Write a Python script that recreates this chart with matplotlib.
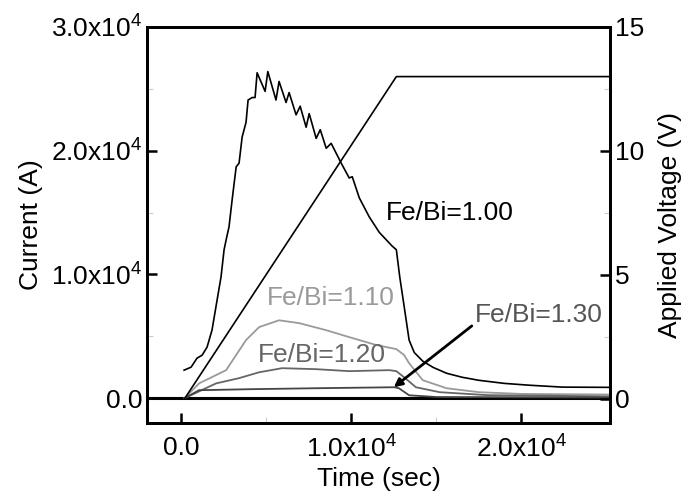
import numpy as np
import matplotlib.pyplot as plt
from matplotlib.ticker import FixedLocator

plt.rcParams['font.family'] = ['Liberation Sans', 'DejaVu Sans']
plt.rcParams['mathtext.fontset'] = 'custom'
plt.rcParams['mathtext.rm'] = 'Liberation Sans'
plt.rcParams['mathtext.it'] = 'Liberation Sans'

# Fe/Bi = 1.00 (black, noisy)
t_100 = [180, 590, 940, 1240, 1530, 1820, 2120, 2350, 2530, 2650, 2820, 3000, 3240,
         3410, 3590, 3820, 3940, 4180, 4350, 4470,
         4940, 5100, 5580, 5760, 6170, 6350, 6760, 7000, 7350, 7530, 7940, 8180, 8530,
         8820, 9410, 9880, 10060, 10470, 11060, 11650, 12400, 12650, 12850, 13100,
         13400, 13700, 14200, 14800, 15600, 16500, 17500, 19000, 20500, 22400, 25200]
i_100 = [2270, 2510, 3240, 3480, 4130, 5500, 7940, 9800, 12000, 12800, 13850, 16000,
         18700, 19000, 21100, 22300, 24100, 24300, 24300, 26300,
         24800, 26400, 24100, 25600, 23900, 24700, 22900, 23600, 21900, 23000,
         21000, 21700, 20200, 20600, 19000, 17800, 17900, 16200, 14650, 13400, 12300,
         12000, 9800, 7500, 4700, 3700, 3000, 2500, 2020, 1700, 1450, 1200, 1050, 900, 880]

# Fe/Bi = 1.10 (light grey)
t_110 = [200, 1060, 2650, 3820, 4590, 5760, 6940, 8530, 9880, 11470, 12650, 13100,
         13400, 14200, 15600, 17500, 20000, 25200]
i_110 = [0, 1200, 2270, 4700, 5750, 6300, 6070, 5500, 4940, 4300, 3970, 3500,
         2830, 1460, 810, 490, 350, 300]

# Fe/Bi = 1.20 (medium grey)
t_120 = [200, 2060, 3400, 4590, 5940, 7940, 9880, 12240, 12650, 13100, 13800, 15200,
         18000, 25200]
i_120 = [0, 1200, 1620, 2100, 2430, 2350, 2190, 2270, 2190, 1700, 890, 490, 250, 150]

# Fe/Bi = 1.30 (dark grey)
t_130 = [200, 1060, 4000, 7940, 12530, 12800, 13400, 15000, 25200]
i_130 = [0, 650, 730, 810, 890, 810, 240, 100, 60]

# applied voltage ramp
t_volt = [200, 12650, 25200]
v_volt = [0, 13, 13]

x_ticks = [0, 10000, 20000]
x_labels = ['0.0', r'1.0x10$^{4}$', r'2.0x10$^{4}$']
y_ticks = [0, 10000, 20000, 30000]
y_labels = ['0.0', r'1.0x10$^{4}$', r'2.0x10$^{4}$', r'3.0x10$^{4}$']
v_ticks = [0, 5, 10, 15]

fig = plt.figure(figsize=(6.82, 4.99), dpi=100)
ax = fig.add_axes([0.2155, 0.1523, 0.6789, 0.7936])
ax2 = ax.twinx()

ax.axhline(0, color='black', lw=2.2, zorder=1)
ax.plot(t_110, i_110, color='#9a9a9a', lw=1.3)
ax.plot(t_120, i_120, color='#666666', lw=1.3)
ax.plot(t_130, i_130, color='#444444', lw=1.3)
ax.plot(t_100, i_100, color='black', lw=1.2)
ax2.plot(t_volt, v_volt, color='black', lw=1.2)

ax.set_xlim(-2000, 25200)
ax.set_ylim(-2000, 30000)
ax2.set_ylim(-0.97, 15)

fs = 19
ax.set_xticks(x_ticks)
ax.set_xticklabels(x_labels, fontsize=fs)
ax.set_yticks(y_ticks)
ax.set_yticklabels(y_labels, fontsize=fs)
ax2.set_yticks(v_ticks)
ax2.set_yticklabels([str(v) for v in v_ticks], fontsize=fs)

ax.xaxis.set_minor_locator(FixedLocator([5000, 15000]))
ax.yaxis.set_minor_locator(FixedLocator([5000, 15000, 25000]))
ax2.yaxis.set_minor_locator(FixedLocator([2.5, 7.5, 12.5]))

ax.tick_params(which='major', direction='in', length=7, width=1.8, top=False)
ax.tick_params(axis='x', which='major', pad=9)
ax.tick_params(which='minor', direction='in', length=4, width=0.8, color='#cccccc', top=False)
ax2.tick_params(which='major', direction='in', length=7, width=1.8)
ax2.tick_params(which='minor', direction='in', length=4, width=0.8, color='#cccccc')

for a in (ax, ax2):
    for s in a.spines.values():
        s.set_linewidth(2)

ax.set_xlabel('Time (sec)', fontsize=fs, labelpad=3)
ax.set_ylabel('Current (A)', fontsize=fs, labelpad=6)
ax2.set_ylabel('Applied Voltage (V)', fontsize=fs, labelpad=10)

ax.text(15800, 15000, 'Fe/Bi=1.00', fontsize=fs, color='black', ha='center', va='center')
ax.text(8800, 8100, 'Fe/Bi=1.10', fontsize=fs, color='#9a9a9a', ha='center', va='center')
ax.text(8300, 3500, 'Fe/Bi=1.20', fontsize=fs, color='#666666', ha='center', va='center')
ax.annotate('Fe/Bi=1.30', xy=(12500, 890), xytext=(21000, 6700),
            fontsize=fs, color='#555555', ha='center', va='center',
            arrowprops=dict(arrowstyle='-|>', color='black', lw=2,
                            shrinkA=0, shrinkB=0, mutation_scale=12,
                            relpos=(0.0, 0.15)))

fig.savefig('out.png', dpi=100)
